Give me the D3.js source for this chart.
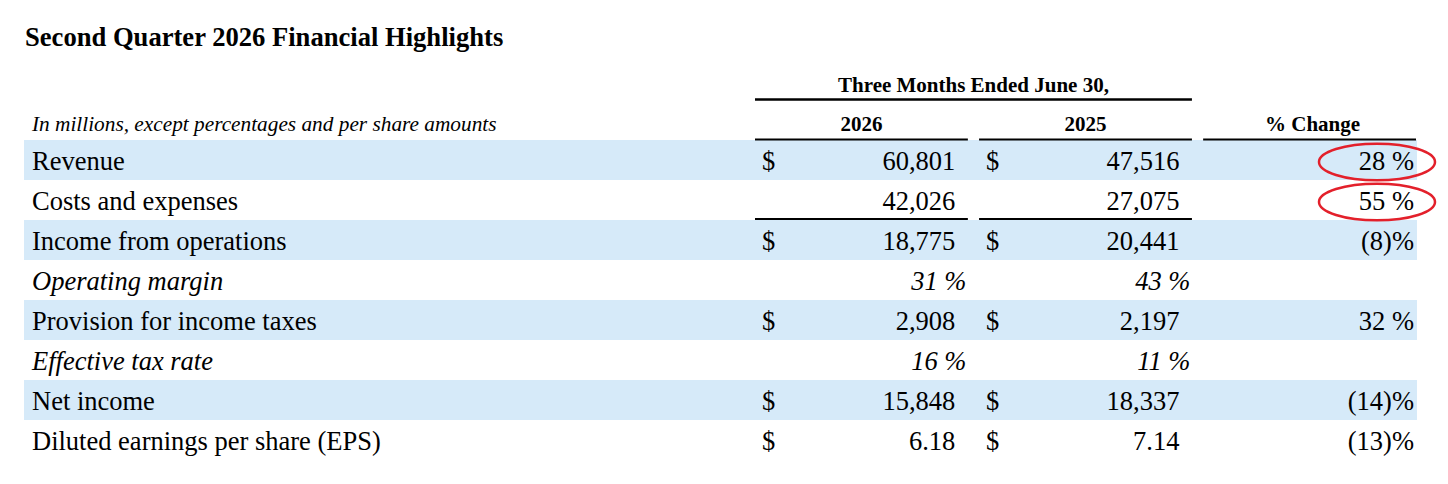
<!DOCTYPE html>
<html>
<head>
<meta charset="utf-8">
<script src="https://cdn.jsdelivr.net/npm/d3@7"></script>
<style>
  html, body { margin: 0; padding: 0; background: #fff; }
  svg text { font-family: "Liberation Serif", "Times New Roman", serif; fill: #000; }
</style>
</head>
<body>
<div id="chart"></div>
<script>
// table data
let rowLabels = ["Revenue", "Costs and expenses", "Income from operations", "Operating margin",
  "Provision for income taxes", "Effective tax rate", "Net income", "Diluted earnings per share (EPS)"];
let italicRows = ["Operating margin", "Effective tax rate"];
let dollarRows = ["Revenue", "Income from operations", "Provision for income taxes", "Net income",
  "Diluted earnings per share (EPS)"];
let values2026 = [60801, 42026, 18775, 31, 2908, 16, 15848, 6.18];
let values2025 = [47516, 27075, 20441, 43, 2197, 11, 18337, 7.14];
let pctChange = [28, 55, -8, null, 32, null, -14, -13];
let highlighted = ["Revenue", "Costs and expenses"];
let columnHeaders = ["2026", "2025", "% Change"];

let width = 1448, height = 484;

let svg = d3.select("#chart").append("svg")
  .attr("width", width)
  .attr("height", height);

// rows go down the page
let y = d3.scaleBand()
  .domain(rowLabels)
  .range([140, 460]);

// column spans
let cols = d3.scaleBand()
  .domain(columnHeaders)
  .range([755, 1416])
  .paddingInner(0.05);

let fmtInt = d3.format(",");
let fmtEps = d3.format(".2f");

function fmtValue(label, v) {
  if (italicRows.includes(label)) return v + " %";
  if (label.startsWith("Diluted")) return fmtEps(v);
  return fmtInt(v);
}

function fmtChange(v) {
  if (v == null) return "";
  return v < 0 ? "(" + Math.abs(v) + ")%" : v + " %";
}

// title
svg.append("text")
  .attr("x", 25)
  .attr("y", 46)
  .style("font-size", "26.6px")
  .style("font-weight", "bold")
  .text("Second Quarter 2026 Financial Highlights");

// banded rows
svg.append("g").selectAll("rect")
  .data(rowLabels.filter((d, i) => i % 2 === 0))
  .join("rect")
  .attr("x", 24)
  .attr("y", d => y(d))
  .attr("width", 1417 - 24)
  .attr("height", y.bandwidth())
  .attr("fill", "#d6eaf9");

// header
let spanX0 = cols("2026"), spanX1 = cols("2025") + cols.bandwidth();
svg.append("text")
  .attr("x", (spanX0 + spanX1) / 2)
  .attr("y", 91.5)
  .attr("text-anchor", "middle")
  .style("font-size", "21px")
  .style("font-weight", "bold")
  .text("Three Months Ended June 30,");

svg.append("line")
  .attr("x1", spanX0).attr("x2", spanX1)
  .attr("y1", 99.5).attr("y2", 99.5)
  .attr("stroke", "#000").attr("stroke-width", 2.5);

svg.append("text")
  .attr("x", 32)
  .attr("y", 131)
  .style("font-size", "21.3px")
  .style("font-style", "italic")
  .text("In millions, except percentages and per share amounts");

let headG = svg.append("g");
headG.selectAll("text")
  .data(columnHeaders)
  .join("text")
  .attr("x", d => cols(d) + cols.bandwidth() / 2 + (d === "% Change" ? 3 : 0))
  .attr("y", 130.5)
  .attr("text-anchor", "middle")
  .style("font-size", "21px")
  .style("font-weight", "bold")
  .text(d => d);

headG.selectAll("line")
  .data(columnHeaders)
  .join("line")
  .attr("x1", d => cols(d))
  .attr("x2", d => cols(d) + cols.bandwidth())
  .attr("y1", 139.5).attr("y2", 139.5)
  .attr("stroke", "#000").attr("stroke-width", 2);

// underline below costs and expenses (subtotal rule)
svg.append("g").selectAll("line")
  .data(["2026", "2025"])
  .join("line")
  .attr("x1", d => cols(d))
  .attr("x2", d => cols(d) + cols.bandwidth())
  .attr("y1", y("Costs and expenses") + y.bandwidth() - 1)
  .attr("y2", y("Costs and expenses") + y.bandwidth() - 1)
  .attr("stroke", "#000").attr("stroke-width", 2);

// body rows
let rows = svg.append("g").selectAll("g")
  .data(rowLabels.map((d, i) => ({ label: d, a: values2026[i], b: values2025[i], c: pctChange[i] })))
  .join("g")
  .attr("transform", d => "translate(0," + (y(d.label) + 29.5) + ")")
  .style("font-size", "26.5px")
  .style("font-style", d => italicRows.includes(d.label) ? "italic" : "normal");

rows.append("text")
  .attr("x", 32)
  .text(d => d.label);

[["2026", "a"], ["2025", "b"]].forEach(([col, key]) => {
  let x0 = cols(col), x1 = cols(col) + cols.bandwidth();
  rows.filter(d => dollarRows.includes(d.label))
    .append("text")
    .attr("x", x0 + 7)
    .text("$");
  rows.append("text")
    .attr("x", d => italicRows.includes(d.label) ? x1 - 1.5 : x1 - 12.5)
    .attr("text-anchor", "end")
    .text(d => fmtValue(d.label, d[key]));
});

rows.append("text")
  .attr("x", cols("% Change") + cols.bandwidth() - 2)
  .attr("text-anchor", "end")
  .text(d => fmtChange(d.c));

// red hand-drawn circles around the highlighted changes
svg.append("g").selectAll("ellipse")
  .data(highlighted)
  .join("ellipse")
  .attr("cx", 1377)
  .attr("cy", d => y(d) + y.bandwidth() / 2 + 2)
  .attr("rx", 58)
  .attr("ry", 18.3)
  .attr("fill", "none")
  .attr("stroke", "#e3202b")
  .attr("stroke-width", 2.5);
</script>
</body>
</html>
